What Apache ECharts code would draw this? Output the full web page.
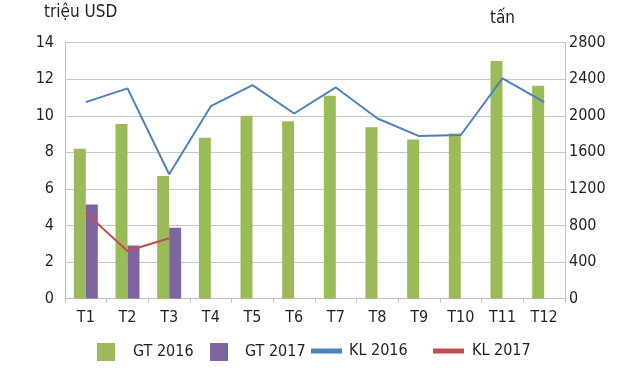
<!DOCTYPE html>
<html><head><meta charset="utf-8">
<script src="https://cdn.jsdelivr.net/npm/echarts@6/dist/echarts.min.js"></script>
<style>html,body{margin:0;padding:0;background:#fff}#c{width:640px;height:379px}</style>
</head><body><div id="c"></div>
<script>
const categories = ['T1','T2','T3','T4','T5','T6','T7','T8','T9','T10','T11','T12'];
const gt2016 = [8.2, 9.55, 6.7, 8.8, 10.0, 9.7, 11.1, 9.37, 8.7, 9.03, 13.0, 11.65];
const gt2017 = [5.15, 2.9, 3.87, null, null, null, null, null, null, null, null, null];
const kl2016 = [2150, 2300, 1360, 2105, 2335, 2025, 2310, 1970, 1778, 1790, 2410, 2150];
const kl2017 = [935, 520, 660, null, null, null, null, null, null, null, null, null];
const leftTicks = [0, 14, 2];
const rightTicks = [0, 2800, 400];

const FONT = '"Liberation Sans Narrow","DejaVu Sans Condensed","Liberation Sans",sans-serif';
const TXT = '#231f20';
const legText = (pad) => ({fontSize: 16, color: TXT, fontFamily: FONT, padding: [0, 0, 0, pad]});
const chart = echarts.init(document.getElementById('c'));
chart.setOption({
  animation: false,
  textStyle: {fontFamily: FONT},
  grid: {left: 65, right: 75, top: 42.7, bottom: 80.5},
  graphic: [
    {type: 'text', left: 44, top: 4, style: {text: 'triệu USD', font: '17px ' + FONT, fill: TXT}},
    {type: 'text', left: 490, top: 10, style: {text: 'tấn', font: '17px ' + FONT, fill: TXT}}
  ],
  legend: [
    {data: ['GT 2016'], left: 92, top: 338, itemWidth: 18, itemHeight: 18, icon: 'rect', textStyle: legText(13)},
    {data: ['GT 2017'], left: 205, top: 338, itemWidth: 18, itemHeight: 18, icon: 'rect', textStyle: legText(12)},
    {data: ['KL 2016'], left: 306, top: 338, itemWidth: 31, itemHeight: 5, icon: 'rect', textStyle: legText(2)},
    {data: ['KL 2017'], left: 428, top: 338, itemWidth: 31, itemHeight: 5, icon: 'rect', textStyle: legText(3)}
  ],
  xAxis: {
    type: 'category', data: categories,
    axisLine: {lineStyle: {color: '#bfbfbf'}},
    axisTick: {show: true, length: 4, lineStyle: {color: '#bfbfbf'}},
    axisLabel: {color: TXT, fontSize: 16, margin: 11, fontFamily: FONT}
  },
  yAxis: [
    {type: 'value', min: leftTicks[0], max: leftTicks[1], interval: leftTicks[2],
     axisLine: {show: true, lineStyle: {color: '#bfbfbf'}},
     axisTick: {show: false},
     splitLine: {lineStyle: {color: '#c8c8c8'}},
     axisLabel: {color: TXT, fontSize: 16, margin: 11, fontFamily: FONT}},
    {type: 'value', min: rightTicks[0], max: rightTicks[1], interval: rightTicks[2],
     axisLine: {show: true, lineStyle: {color: '#bfbfbf'}},
     axisTick: {show: false},
     splitLine: {show: false},
     axisLabel: {color: TXT, fontSize: 16, margin: 4, fontFamily: FONT, formatter: (v) => String(v)}}
  ],
  series: [
    {name: 'GT 2016', type: 'bar', data: gt2016, barWidth: 12, barGap: '0%', itemStyle: {color: '#9bbb59'}},
    {name: 'GT 2017', type: 'bar', data: gt2017, barWidth: 12, barGap: '0%', itemStyle: {color: '#8064a2'}},
    {name: 'KL 2016', type: 'line', yAxisIndex: 1, data: kl2016, symbol: 'none',
     lineStyle: {color: '#4f81bd', width: 2}, itemStyle: {color: '#4f81bd'}},
    {name: 'KL 2017', type: 'line', yAxisIndex: 1, data: kl2017, symbol: 'none',
     lineStyle: {color: '#c0504d', width: 2}, itemStyle: {color: '#c0504d'}}
  ]
});
</script></body></html>
